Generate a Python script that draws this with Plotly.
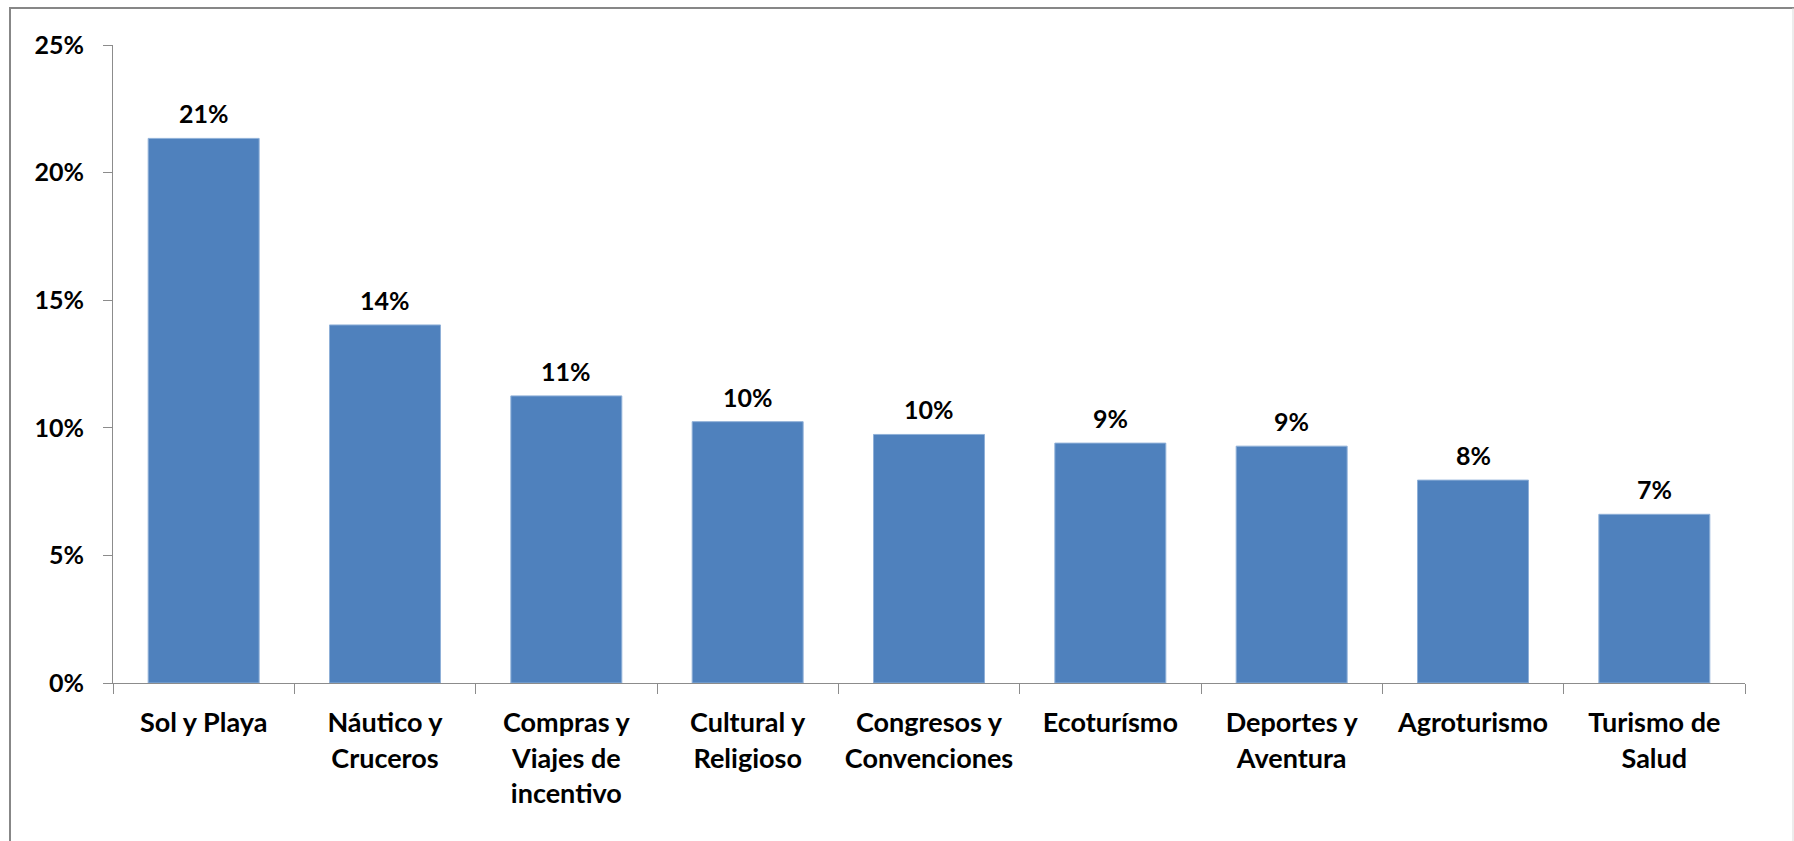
import plotly.graph_objects as go

# Tourism segments and their share of demand
categories = [
    "Sol y Playa",
    "Náutico y<br>Cruceros",
    "Compras y<br>Viajes de<br>incentivo",
    "Cultural y<br>Religioso",
    "Congresos y<br>Convenciones",
    "Ecoturísmo",
    "Deportes y<br>Aventura",
    "Agroturismo",
    "Turismo de<br>Salud",
]
shares = [0.2134, 0.1403, 0.1125, 0.1024, 0.0974, 0.0940, 0.0928, 0.0795, 0.0661]
y_ticks = [0, 0.05, 0.10, 0.15, 0.20, 0.25]
y_tick_text = ["0%", "5%", "10%", "15%", "20%", "25%"]

W, H = 1794, 841
ML, MR, MT, MB = 113, 49, 45, 158
FONT = "Lato, 'Open Sans', sans-serif"
AXIS_GREY = "#8c8c8c"

fig = go.Figure(
    go.Bar(
        x=categories,
        y=shares,
        marker=dict(color="#4F81BD", line=dict(color="#8fb0d8", width=1)),
        hoverinfo="skip",
    )
)

# value labels above each bar
for cat, val in zip(categories, shares):
    fig.add_annotation(
        x=cat, y=val, xref="x", yref="y",
        text=f"<b>{val:.0%}</b>",
        showarrow=False, yanchor="bottom", yshift=8,
        font=dict(family=FONT, size=25, color="black"),
    )

# frame around the chart area (left / top dark, right faint)
pw = W - ML - MR
ph = H - MT - MB
def px_x(p):
    return (p - ML) / pw
def px_y(p):
    return (H - MB - p) / ph

fig.add_shape(type="line", xref="paper", yref="paper",
              x0=px_x(10), x1=px_x(10), y0=px_y(7), y1=px_y(H + 2),
              line=dict(color="#878787", width=2))
fig.add_shape(type="line", xref="paper", yref="paper",
              x0=px_x(9), x1=px_x(W + 2), y0=px_y(8), y1=px_y(8),
              line=dict(color="#878787", width=2))
fig.add_shape(type="line", xref="paper", yref="paper",
              x0=px_x(1793), x1=px_x(1793), y0=px_y(8), y1=px_y(H + 2),
              line=dict(color="#d9d9d9", width=1))

fig.update_layout(
    width=W, height=H,
    margin=dict(l=ML, r=MR, t=MT, b=MB, autoexpand=False),
    paper_bgcolor="white", plot_bgcolor="white",
    bargap=0.388,
    showlegend=False,
    font=dict(family=FONT, color="black"),
)
fig.update_xaxes(
    showline=True, linecolor=AXIS_GREY, linewidth=1,
    ticks="outside", tickson="boundaries", ticklen=10, tickcolor=AXIS_GREY,
    tickangle=0,
    tickfont=dict(family=FONT, size=27, color="black", weight="bold"),
    ticklabelstandoff=16,
    showgrid=False, zeroline=False,
)
fig.update_yaxes(
    range=[0, 0.25],
    tickvals=y_ticks, ticktext=y_tick_text,
    showline=True, linecolor=AXIS_GREY, linewidth=1,
    ticks="outside", ticklen=9, tickcolor=AXIS_GREY,
    tickfont=dict(family=FONT, size=25, color="black", weight="bold"),
    ticklabelstandoff=14,
    showgrid=False, zeroline=False,
)

fig.write_html("out.html")
